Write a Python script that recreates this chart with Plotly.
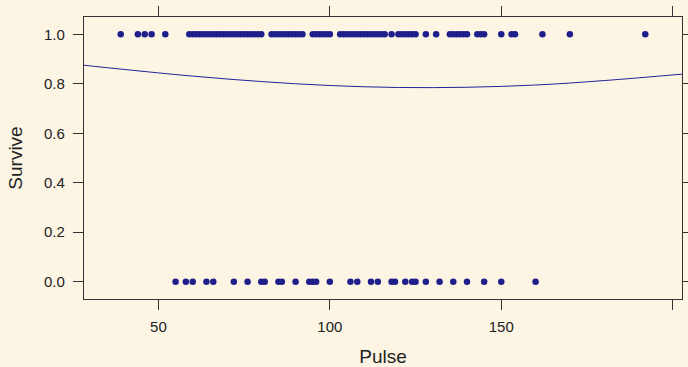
import plotly.graph_objects as go

# Observations (Pulse) for survivors (Survive = 1) and non-survivors (Survive = 0)
pulse_survived = [39, 44, 46, 48, 52,
                  59, 60, 61, 62, 63, 64, 65, 66, 67, 68, 69, 70, 71, 72, 73, 74, 75, 76, 77, 78, 79, 80,
                  83, 84, 85, 86, 87, 88, 89, 90, 91, 92,
                  95, 96, 97, 98, 99, 100,
                  103, 104, 105, 106, 107, 108, 109, 110, 111, 112, 113, 114, 115, 116,
                  118, 120, 121, 122, 123, 124, 125, 128, 131,
                  135, 136, 137, 138, 139, 140, 143, 144, 145, 150, 153, 154, 162, 170, 192]
pulse_died = [55, 58, 60, 64, 66, 72, 76, 80, 81, 85, 86, 90, 94, 95, 96, 100, 106, 108,
              112, 114, 118, 119, 122, 124, 125, 128, 132, 136, 140, 145, 150, 160]

# Fitted probability curve
curve_x = [28.3, 40, 60, 80, 100, 120, 140, 160, 180, 202.7]
curve_y = [0.875, 0.858, 0.831, 0.809, 0.793, 0.785, 0.786, 0.795, 0.813, 0.839]

x_ticks = [50, 100, 150, 200]
x_ticktext = ["50", "100", "150", ""]
y_ticks = [0.0, 0.2, 0.4, 0.6, 0.8, 1.0]
y_ticktext = ["0.0", "0.2", "0.4", "0.6", "0.8", "1.0"]

pt_color = "#1f1f8c"
line_color = "#22229a"
bg = "#fdf5e4"

fig = go.Figure()
fig.add_trace(go.Scatter(x=pulse_survived, y=[1] * len(pulse_survived), mode="markers",
                         marker=dict(color=pt_color, size=6.5), showlegend=False))
fig.add_trace(go.Scatter(x=pulse_died, y=[0] * len(pulse_died), mode="markers",
                         marker=dict(color=pt_color, size=6.5), showlegend=False))
fig.add_trace(go.Scatter(x=curve_x, y=curve_y, mode="lines",
                         line=dict(color=line_color, width=1, shape="spline"), showlegend=False))

axis_common = dict(showgrid=False, zeroline=False, showline=True, linecolor="#333333",
                   linewidth=1.2, mirror="ticks", ticks="outside", ticklen=10,
                   tickcolor="#333333", tickwidth=1.2, automargin=False,
                   tickfont=dict(family="Liberation Sans, Arial, sans-serif", size=15, color="#222222"))

fig.update_layout(
    width=688, height=367,
    paper_bgcolor=bg, plot_bgcolor=bg,
    margin=dict(l=84, r=6, t=17, b=68),
    font=dict(family="Liberation Sans, Arial, sans-serif", color="#222222"),
    xaxis=dict(range=[28.29, 202.71], tickvals=x_ticks, ticktext=x_ticktext,
               title=dict(text="Pulse", font=dict(size=19), standoff=19),
               ticklabelstandoff=4, **axis_common),
    yaxis=dict(range=[-0.07, 1.07], tickvals=y_ticks, ticktext=y_ticktext,
               title=dict(text="Survive", font=dict(size=19), standoff=16),
               ticklabelstandoff=5, **axis_common),
)

fig.write_html("out.html", config={"displayModeBar": False},
               post_script="document.body.style.margin='0';document.body.style.background='%s';" % bg)
